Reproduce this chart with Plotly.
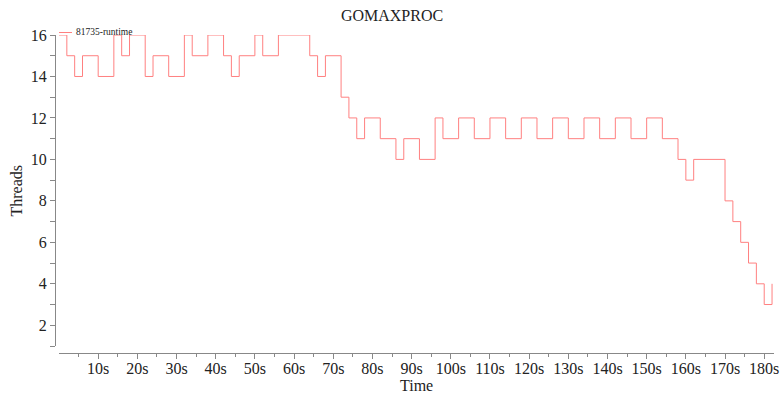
import plotly.graph_objects as go

# GOMAXPROCS samples for process 81735: time (s) where the value changes, and the new value
times = [0, 2, 4, 6, 10, 14, 16, 18, 22, 24, 28, 32, 34, 38, 42, 44, 46, 50, 52, 56,
         64, 66, 68, 72, 74, 76, 78, 82, 86, 88, 92, 96, 98, 102, 106, 110, 114, 118,
         122, 126, 130, 134, 138, 142, 146, 150, 154, 158, 160, 162, 170, 172, 174,
         176, 178, 180, 182]
threads = [16, 15, 14, 15, 14, 16, 15, 16, 14, 15, 14, 16, 15, 16, 15, 14, 15, 16, 15, 16,
           15, 14, 15, 13, 12, 11, 12, 11, 10, 11, 10, 12, 11, 12, 11, 12, 11, 12,
           11, 12, 11, 12, 11, 12, 11, 12, 11, 10, 9, 10, 8, 7, 6,
           5, 4, 3, 4]
series_name = "81735-runtime"
x_ticks = list(range(10, 181, 10))
x_tick_labels = [f"{t}s" for t in x_ticks]

W, H = 784, 396
FONT = "Liberation Serif"
LINE_COLOR = "#ff8080"
AXIS_COLOR = "#888888"
TEXT_COLOR = "#222222"


def px_x(p):
    return p / W


def px_y(p):
    return (H - p) / H


fig = go.Figure()
fig.add_trace(go.Scatter(
    x=times, y=threads, mode="lines", line_shape="hv",
    line=dict(color=LINE_COLOR, width=1), name=series_name, showlegend=False,
))

fig.update_layout(
    width=W, height=H,
    margin=dict(l=0, r=0, t=0, b=0, autoexpand=False),
    paper_bgcolor="white", plot_bgcolor="white",
    font=dict(family=FONT, size=15, color=TEXT_COLOR),
    title=dict(text="GOMAXPROC", x=0.5, xanchor="center", xref="paper",
               y=px_y(15), yref="container", yanchor="middle", automargin=False,
               font=dict(family=FONT, size=16, color=TEXT_COLOR)),
    xaxis=dict(
        domain=[px_x(59), px_x(774)], range=[0, 182.5],
        anchor="free", position=px_y(353), automargin=False,
        showgrid=False, zeroline=False,
        showline=True, linecolor=AXIS_COLOR, linewidth=1,
        tickmode="array", tickvals=x_ticks, ticktext=x_tick_labels,
        ticks="outside", ticklen=5, tickcolor=AXIS_COLOR, tickwidth=1,
        ticklabelstandoff=-4,
        minor=dict(tickmode="linear", tick0=5, dtick=10, ticks="outside",
                   ticklen=3, tickcolor=AXIS_COLOR, showgrid=False),
        tickfont=dict(family=FONT, size=16, color=TEXT_COLOR),
    ),
    yaxis=dict(
        domain=[px_y(346), px_y(35)], range=[1, 16],
        anchor="free", position=px_x(55), automargin=False,
        showgrid=False, zeroline=False,
        showline=True, linecolor=AXIS_COLOR, linewidth=1,
        tickmode="linear", tick0=0, dtick=2,
        ticks="outside", ticklen=5, tickcolor=AXIS_COLOR, tickwidth=1,
        minor=dict(tickmode="linear", tick0=1, dtick=2, ticks="outside",
                   ticklen=5, tickcolor=AXIS_COLOR, showgrid=False),
        tickfont=dict(family=FONT, size=16, color=TEXT_COLOR),
    ),
)

# axis titles
fig.add_annotation(text="Time", xref="paper", yref="paper",
                   x=px_x(416.5), y=px_y(385), showarrow=False,
                   xanchor="center", yanchor="middle",
                   font=dict(family=FONT, size=16, color=TEXT_COLOR))
fig.add_annotation(text="Threads", xref="paper", yref="paper",
                   x=px_x(16), y=px_y(190.5), showarrow=False, textangle=-90,
                   xanchor="center", yanchor="middle",
                   font=dict(family=FONT, size=16, color=TEXT_COLOR))

# legend entry: short line sample plus series name
fig.add_shape(type="line", xref="paper", yref="paper",
              x0=px_x(59), x1=px_x(72), y0=px_y(32.5), y1=px_y(32.5),
              line=dict(color=LINE_COLOR, width=1))
fig.add_annotation(text=series_name, xref="paper", yref="paper",
                   x=px_x(74), y=px_y(32), showarrow=False,
                   xanchor="left", yanchor="middle",
                   font=dict(family=FONT, size=9.5, color=TEXT_COLOR))

fig.write_html("out.html")
